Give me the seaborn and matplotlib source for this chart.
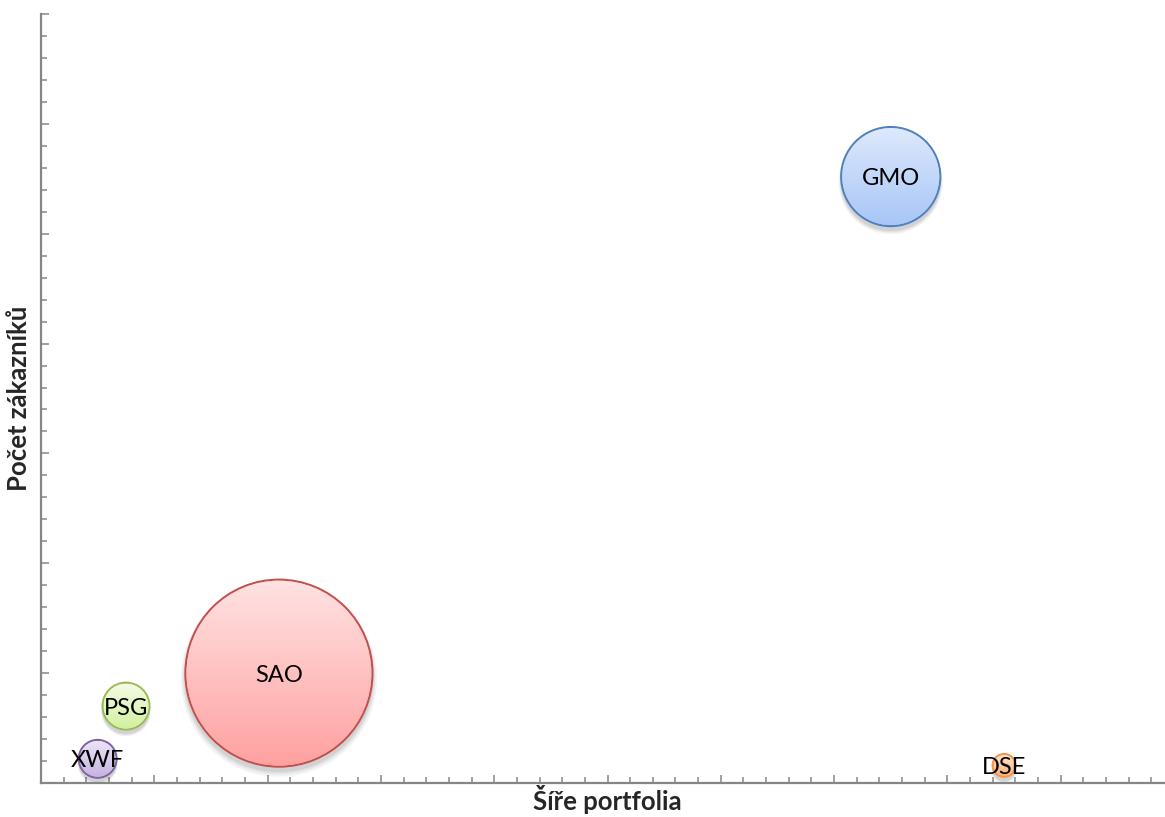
import numpy as np
import pandas as pd
import matplotlib
matplotlib.use("Agg")
import matplotlib.pyplot as plt
import seaborn as sns
from matplotlib.patches import Ellipse
from matplotlib.colors import to_rgb
from matplotlib import transforms

# Companies: portfolio width (x), number of customers (y), bubble size
companies = ["XWF", "PSG", "SAO", "GMO", "DSE"]
portfolio_width = [5.0, 7.5, 21.0, 75.0, 85.0]
customers = [1100, 3500, 5000, 27600, 800]
bubble_size = [4.1, 6.3, 100.0, 28.1, 1.5]

edge_colors = ["#8064a2", "#9bbb59", "#c0504d", "#4f81bd", "#f79646"]
top_colors = ["#ece4f6", "#f4fbe4", "#ffe2e2", "#dee9fc", "#fde4cd"]
bottom_colors = ["#c5b3e2", "#d3f0a0", "#ffa1a1", "#a8c6f7", "#fbb27a"]

df = pd.DataFrame({
    "company": companies,
    "width": portfolio_width,
    "customers": customers,
    "size": bubble_size,
})

sns.set_theme(style="white")
plt.rcParams["font.family"] = ["Lato", "DejaVu Sans"]

W, H, DPI = 1165, 817, 100
fig = plt.figure(figsize=(W / DPI, H / DPI), dpi=DPI)
ax_left, ax_right, ax_top, ax_bottom = 41, 1174, 14, 783
ax = fig.add_axes([ax_left / W, (H - ax_bottom) / H,
                   (ax_right - ax_left) / W, (ax_bottom - ax_top) / H])

XMAX, YMAX = 100, 35000
S_MAX = 18128  # marker area (pt^2) of the largest bubble
ax.set_xlim(0, XMAX)
ax.set_ylim(0, YMAX)

# soft drop shadow beneath each bubble
sizes_pt2 = np.array(bubble_size) / 100.0 * S_MAX
for dy, grow, a in [(-4, 1.10, 0.05), (-3.5, 1.06, 0.06), (-3, 1.03, 0.07)]:
    off = transforms.ScaledTranslation(0, dy / 72, fig.dpi_scale_trans)
    ax.scatter(portfolio_width, customers, s=sizes_pt2 * grow, color="black",
               alpha=a, linewidths=0, transform=ax.transData + off, zorder=1)

sns.scatterplot(data=df, x="width", y="customers", size="size",
                sizes=(0, S_MAX), size_norm=(0, 100), hue="company",
                palette=dict(zip(companies, bottom_colors)),
                linewidth=1.5, legend=False, ax=ax, zorder=2)
pts = ax.collections[-1]
pts.set_edgecolors(edge_colors)
pts.set_linewidths(1.5)

# vertical gradient inside each bubble
px_x = XMAX / (ax_right - ax_left)
px_y = YMAX / (ax_bottom - ax_top)
for x, y, sz, ct, cb in zip(portfolio_width, customers, bubble_size, top_colors, bottom_colors):
    s = sz / 100.0 * S_MAX
    r_px = np.sqrt(s) / 2 * DPI / 72 - 1.0
    rx, ry = r_px * px_x, r_px * px_y
    t = np.linspace(0, 1, 128)[:, None, None]
    grad = (1 - t) * np.array(to_rgb(ct)) + t * np.array(to_rgb(cb))
    grad = np.repeat(grad, 2, axis=1)
    im = ax.imshow(grad, extent=[x - rx, x + rx, y - ry, y + ry], origin="upper",
                   aspect="auto", interpolation="bilinear", zorder=2.5)
    clip = Ellipse((x, y), 2 * rx, 2 * ry, transform=ax.transData)
    im.set_clip_path(clip)

for x, y, name in zip(portfolio_width, customers, companies):
    ax.text(x, y, name, ha="center", va="center_baseline", fontsize=17,
            color="black", zorder=5)

ax.set_xlim(0, XMAX)
ax.set_ylim(0, YMAX)

ax.xaxis.set_major_locator(matplotlib.ticker.MultipleLocator(10))
ax.xaxis.set_minor_locator(matplotlib.ticker.MultipleLocator(2))
ax.yaxis.set_major_locator(matplotlib.ticker.MultipleLocator(5000))
ax.yaxis.set_minor_locator(matplotlib.ticker.MultipleLocator(1000))
axis_gray = "#868686"
ax.tick_params(which="both", direction="in", bottom=True, left=True,
               labelbottom=False, labelleft=False, color=axis_gray, width=1.1)
ax.tick_params(which="major", length=5.6)
ax.tick_params(which="minor", length=4.3)
for side in ["top", "right"]:
    ax.spines[side].set_visible(False)
for side in ["left", "bottom"]:
    ax.spines[side].set_color(axis_gray)
    ax.spines[side].set_linewidth(1.6)

ax.set_xlabel("Šíře portfolia", fontsize=18.5, fontweight="bold")
ax.xaxis.set_label_coords(0.5, (ax_bottom - 810) / (ax_bottom - ax_top))
ax.xaxis.label.set_va("baseline")
ax.set_ylabel("Počet zákazníků", fontsize=18.5, fontweight="bold", labelpad=7)

fig.savefig("out.png", dpi=DPI, facecolor="white")
